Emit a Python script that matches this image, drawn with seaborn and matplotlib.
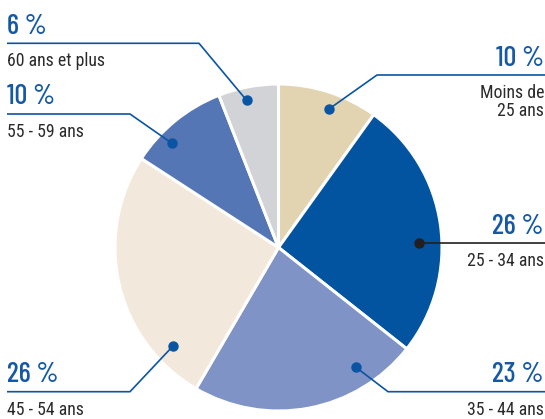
import numpy as np
import matplotlib
matplotlib.use("Agg")
import matplotlib.pyplot as plt
import seaborn as sns

# Age distribution (percent)
categories = ["Moins de\n25 ans", "25 - 34 ans", "35 - 44 ans", "45 - 54 ans", "55 - 59 ans", "60 ans et plus"]
values = [10, 26, 23, 26, 10, 6]
slice_colors = ["#e2d3b1", "#0254a1", "#7f93c6", "#f2e9dc", "#5476b5", "#d2d3d6"]

sns.set_theme(style="white")
plt.rcParams["font.family"] = ["Roboto Condensed", "Archivo Narrow", "DejaVu Sans"]
PCT_FONT = ["Barlow Condensed", "Roboto Condensed", "DejaVu Sans"]
LBL_FONT = ["Roboto Condensed", "Archivo Narrow", "DejaVu Sans"]

W, H = 545, 419
fig = plt.figure(figsize=(W / 100, H / 100), dpi=100)
ax = fig.add_axes([0, 0, 1, 1])

palette = sns.color_palette(slice_colors)
cx, cy, R = 278.5, H - 247.5, 163.5
wedges, _ = ax.pie(values, colors=palette, startangle=90, counterclock=False,
                   center=(cx, cy), radius=R, frame=True,
                   wedgeprops=dict(edgecolor="white", linewidth=2.2))
ax.set_xlim(0, W)
ax.set_ylim(0, H)
ax.set_aspect("equal")
ax.axis("off")

BLUE = "#1559a6"
LINE = "#0a55a3"
DARK = "#2a2a2a"

# label layout: side, y of leader line (from top), elbow x, anchor position in wedge, radius fraction
layout = [
    dict(side="right", ly=75.0, ex=377, frac=0.56, rf=0.90, lc=LINE),
    dict(side="right", ly=243.3, ex=None, frac=0.57, rf=0.86, lc="#231f20"),
    dict(side="right", ly=391.7, ex=388, frac=0.23, rf=0.87, lc=LINE),
    dict(side="left", ly=391.7, ex=130, frac=0.18, rf=0.88, lc=LINE),
    dict(side="left", ly=114.0, ex=130, frac=0.32, rf=0.91, lc=LINE),
    dict(side="left", ly=43.3, ex=199, frac=0.43, rf=0.92, lc=LINE),
]

for w, cat, val, lay in zip(wedges, categories, values, layout):
    t1, t2 = w.theta1, w.theta2
    # wedges run clockwise, so theta2 is the start of the slice
    ang = np.deg2rad(t2 - lay["frac"] * (t2 - t1))
    px = cx + lay["rf"] * R * np.cos(ang)
    py = cy + lay["rf"] * R * np.sin(ang)
    yl = H - lay["ly"]
    if lay["side"] == "right":
        xe, xt, ha = W, W - 1, "right"
    else:
        xe, xt, ha = 7, 7, "left"
    if lay["ex"] is None:
        xs = [px, xe]
        ys = [yl, yl]
        py = yl
    else:
        xs = [px, lay["ex"], xe]
        ys = [py, yl, yl]
    ax.plot(xs, ys, color=lay["lc"], lw=1.2, solid_capstyle="butt", zorder=5)
    ax.plot([px], [py], "o", ms=6.5, color=lay["lc"], zorder=6)

    ax.text(xt, yl + 9.5, f"{val} %", ha=ha, va="baseline", fontsize=20.5,
            family=PCT_FONT, weight="medium", color=BLUE, zorder=7)
    for i, line in enumerate(cat.split("\n")):
        ax.text(xt, yl - 23 - 18 * i, line, ha=ha, va="baseline", fontsize=12.8,
                family=LBL_FONT, color=DARK, zorder=7)

fig.savefig("out.png", dpi=100)
